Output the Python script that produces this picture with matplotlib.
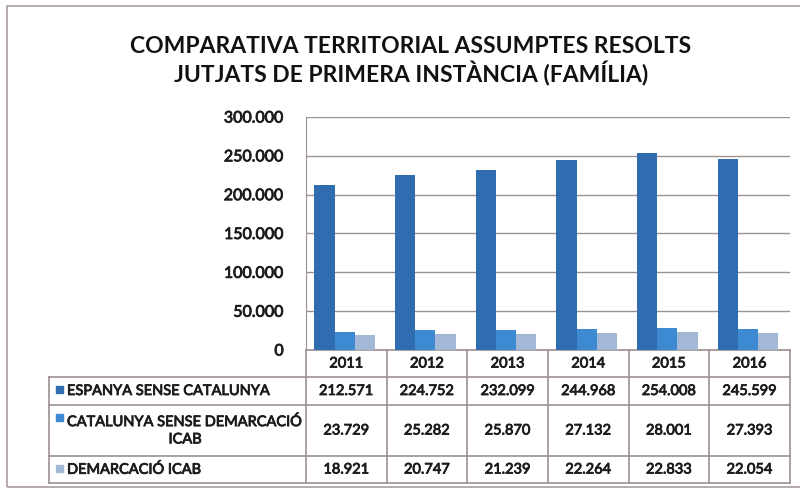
import matplotlib.pyplot as plt
import matplotlib.patheffects as pe
from matplotlib.patches import Rectangle
from matplotlib.lines import Line2D

years = ['2011', '2012', '2013', '2014', '2015', '2016']
series_names = ['ESPANYA SENSE CATALUNYA',
                'CATALUNYA SENSE DEMARCACIÓ\nICAB',
                'DEMARCACIÓ ICAB']
espanya = [212571, 224752, 232099, 244968, 254008, 245599]
catalunya = [23729, 25282, 25870, 27132, 28001, 27393]
icab = [18921, 20747, 21239, 22264, 22833, 22054]
yticks = [0, 50000, 100000, 150000, 200000, 250000, 300000]

colors = ['#2f6cb0', '#3d8ad2', '#a3b8d6']
line_col = '#9d9090'
txt_col = '#1c1c1c'
# slightly heavier strokes for the regular text
heavy = [pe.withStroke(linewidth=0.6, foreground=txt_col)]

def fmt(v):
    # thousands separated with a dot
    return '{:,}'.format(v).replace(',', '.')

plt.rcParams['font.family'] = ['Lato', 'DejaVu Sans']

fig = plt.figure(figsize=(8, 4.9), dpi=100)
W, H = 800, 490
ax = fig.add_axes([306 / W, 1 - 350 / H, 484 / W, 233 / H])

width = 0.25
data = [espanya, catalunya, icab]
for k, vals in enumerate(data):
    xs = [i + (k - 1) * width - 0.02 for i in range(len(years))]
    ax.bar(xs, vals, width=width, color=colors[k], zorder=3)

ax.set_xlim(-0.5, len(years) - 0.5)
ax.set_ylim(0, 300000)
ax.set_yticks(yticks)
ax.set_yticklabels([fmt(v) for v in yticks], fontsize=11.5, color=txt_col)
for t in ax.get_yticklabels():
    t.set_path_effects(heavy)
ax.tick_params(axis='y', length=0, pad=16)
ax.set_xticks([])
ax.grid(axis='y', color=line_col, linewidth=1, zorder=0)
for s in ['top', 'right', 'bottom']:
    ax.spines[s].set_visible(False)
ax.spines['left'].set_color(line_col)

# data table under the plot (axes fraction coordinates)
aw, ah = 484.0, 233.0
rows_y = [(350 - y) / ah for y in [350, 377, 405, 456, 483]]
left_x = (49 - 306) / aw
col_x = [i / len(years) for i in range(len(years) + 1)]
tr = ax.transAxes
lk = dict(transform=tr, color=line_col, linewidth=1.2, clip_on=False)

# horizontal lines
ax.add_line(Line2D([0, 1], [rows_y[0], rows_y[0]], **lk))
for y in rows_y[1:]:
    ax.add_line(Line2D([left_x, 1], [y, y], **lk))
# vertical lines
for x in col_x:
    ax.add_line(Line2D([x, x], [rows_y[0], rows_y[-1]], **lk))
ax.add_line(Line2D([left_x, left_x], [rows_y[1], rows_y[-1]], **lk))

tk = dict(transform=tr, fontsize=10.5, color=txt_col, path_effects=heavy)
for i, yr in enumerate(years):
    cx = (col_x[i] + col_x[i + 1]) / 2
    ax.text(cx, (rows_y[0] + rows_y[1]) / 2, yr, ha='center', va='center', **tk)
    for r, vals in enumerate(data):
        ax.text(cx, (rows_y[r + 1] + rows_y[r + 2]) / 2, fmt(vals[i]),
                ha='center', va='center', **tk)

for r, name in enumerate(series_names):
    cy = (rows_y[r + 1] + rows_y[r + 2]) / 2
    top = rows_y[r + 1] - 14 / ah if '\n' in name else cy
    ax.add_patch(Rectangle((left_x + 7 / aw, top - 2 / ah), 7 / aw, 7 / ah,
                           transform=tr, color=colors[r], clip_on=False))
    ax.text(left_x + 18 / aw, cy, name, ha='left', va='center',
            multialignment='center', linespacing=1.3, **tk)

fig.text(411 / W, 1 - 61 / H,
         'COMPARATIVA TERRITORIAL ASSUMPTES RESOLTS\nJUTJATS DE PRIMERA INSTÀNCIA (FAMÍLIA)',
         ha='center', va='center', fontsize=16.5, fontweight='bold',
         color='#111111', linespacing=1.2)

# outer chart frame
fig.add_artist(Rectangle((7 / W, 1 - 487 / H), 800 / W, 481 / H,
                         transform=fig.transFigure, fill=False,
                         edgecolor='#a89c9c', linewidth=1.2))

fig.savefig('out.png', dpi=100)
